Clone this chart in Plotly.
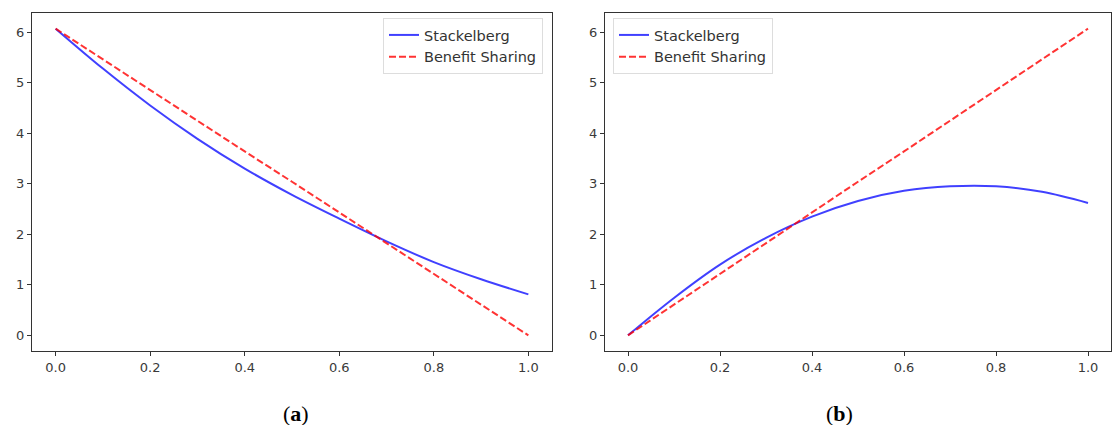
import plotly.graph_objects as go

x_vals = [0.0, 0.1, 0.2, 0.3, 0.4, 0.5, 0.6, 0.7, 0.8, 0.9, 1.0]
stack_a = [6.07, 5.28, 4.55, 3.89, 3.30, 2.78, 2.31, 1.86, 1.45, 1.11, 0.81]
share_a = [6.07, 5.46, 4.86, 4.25, 3.64, 3.04, 2.43, 1.82, 1.21, 0.61, 0.0]
stack_b = [0.0, 0.74, 1.40, 1.93, 2.35, 2.66, 2.86, 2.95, 2.95, 2.84, 2.62]
share_b = [0.0, 0.61, 1.21, 1.82, 2.43, 3.04, 3.64, 4.25, 4.86, 5.46, 6.07]
x_ticks = [0.0, 0.2, 0.4, 0.6, 0.8, 1.0]
x_tick_text = ["0.0", "0.2", "0.4", "0.6", "0.8", "1.0"]
y_ticks = [0, 1, 2, 3, 4, 5, 6]
captions = ["a", "b"]

BLUE = "rgba(0,0,255,0.75)"
RED = "rgba(255,0,0,0.8)"
DASH = "7px,3px"

fig = go.Figure()
fig.add_trace(go.Scatter(x=x_vals, y=stack_a, mode="lines", name="Stackelberg",
                         line=dict(color=BLUE, width=2, shape="spline"),
                         xaxis="x", yaxis="y", legend="legend"))
fig.add_trace(go.Scatter(x=x_vals, y=share_a, mode="lines", name="Benefit Sharing",
                         line=dict(color=RED, width=2, dash=DASH),
                         xaxis="x", yaxis="y", legend="legend"))
fig.add_trace(go.Scatter(x=x_vals, y=stack_b, mode="lines", name="Stackelberg",
                         line=dict(color=BLUE, width=2, shape="spline"),
                         xaxis="x2", yaxis="y2", legend="legend2"))
fig.add_trace(go.Scatter(x=x_vals, y=share_b, mode="lines", name="Benefit Sharing",
                         line=dict(color=RED, width=2, dash=DASH),
                         xaxis="x2", yaxis="y2", legend="legend2"))

ax_common = dict(showline=True, mirror=True, linecolor="#333333", linewidth=1,
                 ticks="outside", ticklen=4, tickcolor="#333333", showgrid=False,
                 zeroline=False, tickfont=dict(family="DejaVu Sans", size=13, color="#3a3a3a"))
ydom = [1 - 351 / 425, 1 - 13 / 425]
leg_common = dict(y=1 - 18 / 425, yanchor="top", itemwidth=30,
                  bgcolor="rgba(255,255,255,0.8)", bordercolor="#dddddd", borderwidth=1,
                  font=dict(family="DejaVu Sans", size=14.5, color="#333333"))
fig.update_layout(
    width=1114, height=425, margin=dict(l=0, r=0, t=0, b=0),
    plot_bgcolor="white", paper_bgcolor="white",
    xaxis=dict(domain=[32 / 1114, 552 / 1114], range=[-0.05, 1.05], tickvals=x_ticks,
               ticktext=x_tick_text, anchor="y", **ax_common),
    yaxis=dict(domain=ydom, range=[-0.31, 6.38], tickvals=y_ticks, anchor="x", **ax_common),
    xaxis2=dict(domain=[605 / 1114, 1111 / 1114], range=[-0.05, 1.05], tickvals=x_ticks,
                ticktext=x_tick_text, anchor="y2", **ax_common),
    yaxis2=dict(domain=ydom, range=[-0.31, 6.38], tickvals=y_ticks, anchor="x2", **ax_common),
    legend=dict(x=543 / 1114, xanchor="right", **leg_common),
    legend2=dict(x=613 / 1114, xanchor="left", **leg_common),
    showlegend=True,
)
for cx, c in zip([281 / 1114, 855 / 1114], captions):
    fig.add_annotation(x=cx, y=1 - 413 / 425, xref="paper", yref="paper",
                       yanchor="middle", text=f"(<b>{c}</b>)", showarrow=False,
                       font=dict(family="Liberation Serif", size=22, color="black"))

fig.write_html("out.html")
